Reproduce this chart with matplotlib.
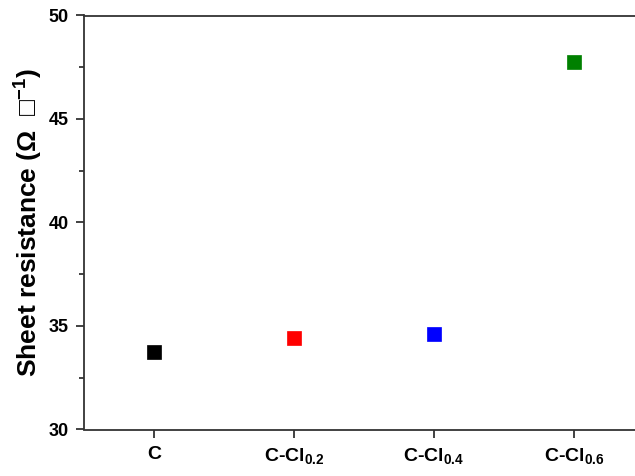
import matplotlib
matplotlib.use('Agg')
import matplotlib.pyplot as plt
from matplotlib.ticker import MultipleLocator

# data
samples = ['C', 'C-Cl$_{0.2}$', 'C-Cl$_{0.4}$', 'C-Cl$_{0.6}$']
resistance = [33.72, 34.43, 34.60, 47.74]
colors = ['black', 'red', 'blue', 'green']

plt.rcParams['font.family'] = ['Liberation Sans', 'DejaVu Sans']
plt.rcParams['font.weight'] = 'bold'
plt.rcParams['mathtext.fontset'] = 'custom'
plt.rcParams['mathtext.rm'] = 'Liberation Sans:bold'
plt.rcParams['mathtext.it'] = 'Liberation Sans:bold'
plt.rcParams['mathtext.bf'] = 'Liberation Sans:bold'
plt.rcParams['mathtext.default'] = 'rm'
plt.rcParams['mathtext.fallback'] = 'stix'

fig = plt.figure(figsize=(6.35, 4.76), dpi=100)
ax = fig.add_axes([84 / 635, 46.5 / 476, 560 / 635, 414 / 476])

xs = list(range(1, len(samples) + 1))
for x, y, c in zip(xs, resistance, colors):
    ax.plot(x, y, marker='s', ms=9.5, color=c, mec=c, mew=0.5, linestyle='none')

ax.set_xlim(0.5, 4.5)
ax.set_ylim(30, 50)
ax.set_xticks(xs)
ax.set_xticklabels(samples)
ax.yaxis.set_major_locator(MultipleLocator(5))
ax.yaxis.set_minor_locator(MultipleLocator(2.5))

for s in ax.spines.values():
    s.set_linewidth(1.3)
    s.set_color('#333333')
ax.spines['right'].set_visible(False)

ax.tick_params(axis='both', which='major', direction='out', length=5.8, width=1.3,
               labelsize=13, pad=5, colors='#333333', labelcolor='black')
ax.tick_params(axis='y', which='minor', direction='out', length=3.6, width=1.3,
               colors='#333333')
ax.tick_params(axis='x', which='major', pad=6, labelsize=14)
ax.tick_params(top=False, right=False, which='both')

for lab in ax.get_xticklabels() + ax.get_yticklabels():
    lab.set_fontweight('bold')

ax.set_ylabel('Sheet resistance ($\\Omega$  $\u25a1^{-1}$)', fontsize=19,
              fontweight='bold', labelpad=3)

fig.savefig('out.png', dpi=100)
